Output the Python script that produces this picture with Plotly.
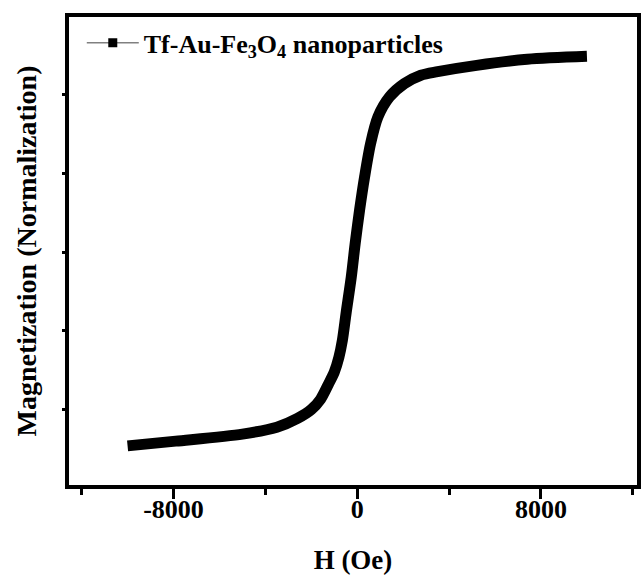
import plotly.graph_objects as go

# Field (Oe) and normalized magnetization
H = [-10000, -7900, -5000, -3500, -2600, -2000, -1600, -1250, -1000, -800,
     -650, -480, -260, -90, 100, 320, 580, 900, 1400, 2050, 2770, 3500, 5200,
     7400, 10000]
M = [-0.985, -0.961, -0.925, -0.890, -0.845, -0.800, -0.748, -0.670, -0.610,
     -0.535, -0.450, -0.305, -0.126, 0.044, 0.213, 0.383, 0.552, 0.688, 0.789,
     0.857, 0.900, 0.918, 0.950, 0.981, 0.996]

x_major = [-8000, 0, 8000]
x_labels = ["-8000", "0", "8000"]
x_minor = [-12000, -4000, 4000, 12000]
y_ticks = [-0.8, -0.4, 0, 0.4, 0.8]

series_name = "<b>Tf-Au-Fe<sub>3</sub>O<sub>4</sub> nanoparticles</b>"
FONT = "Liberation Serif"

fig = go.Figure()
fig.add_trace(go.Scatter(
    x=H, y=M, mode="lines", line=dict(color="black", width=11, shape="spline", smoothing=0.8),
    showlegend=False, hoverinfo="skip"))
fig.add_trace(go.Scatter(
    x=[None], y=[None], mode="lines+markers", name=series_name,
    line=dict(color="#808080", width=1.5),
    marker=dict(symbol="square", size=9, color="black")))

fig.update_layout(
    width=644, height=580,
    margin=dict(l=69, r=3, t=17, b=95),
    paper_bgcolor="white", plot_bgcolor="white",
    font=dict(family=FONT, size=25, color="black"),
    showlegend=True,
    legend=dict(x=0.0225, y=0.995, xanchor="left", yanchor="top",
                bgcolor="rgba(0,0,0,0)", borderwidth=0,
                font=dict(family=FONT, size=26, color="black"),
                itemwidth=52),
    xaxis=dict(
        range=[-12550, 12180], tickmode="array", tickvals=x_major,
        ticktext=["<b>%s</b>" % t for t in x_labels],
        ticks="outside", ticklen=10, tickwidth=3, tickcolor="black",
        ticklabelstandoff=-12,
        minor=dict(ticks="outside", ticklen=6, tickwidth=3, tickcolor="black",
                   tickmode="array", tickvals=x_minor),
        showline=True, linewidth=4, linecolor="black", mirror=True,
        showgrid=False, zeroline=False,
        tickfont=dict(family=FONT, size=26, color="black"),
        title=dict(text="<b>H (Oe)</b>", standoff=28,
                   font=dict(family=FONT, size=27, color="black")),
    ),
    yaxis=dict(
        range=[-1.184, 1.196], tickmode="array", tickvals=y_ticks,
        showticklabels=False,
        ticks="outside", ticklen=3, tickwidth=3, tickcolor="black",
        showline=True, linewidth=4, linecolor="black", mirror=True,
        showgrid=False, zeroline=False,
        title=dict(text="<b>Magnetization (Normalization)</b>", standoff=18,
                   font=dict(family=FONT, size=28, color="black")),
    ),
)

fig.write_html("out.html")
